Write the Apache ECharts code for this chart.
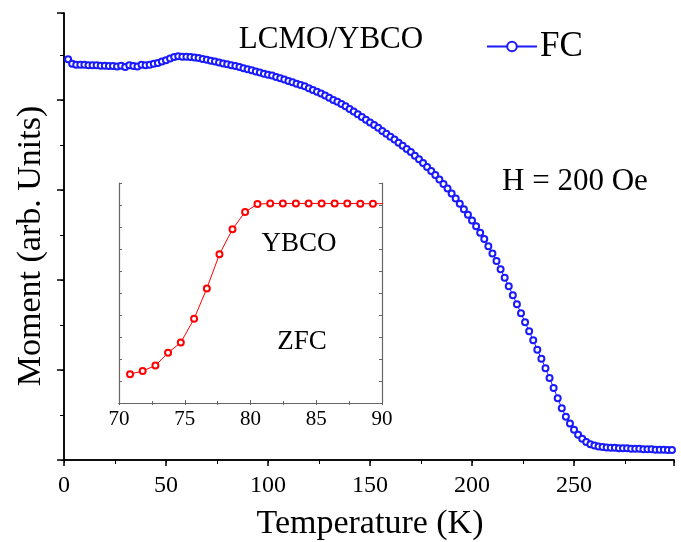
<!DOCTYPE html>
<html>
<head>
<meta charset="utf-8">
<script src="https://cdn.jsdelivr.net/npm/echarts@6/dist/echarts.min.js"></script>
<style>
  html, body { margin: 0; padding: 0; background: #fff; }
  #chart { width: 681px; height: 542px; }
</style>
</head>
<body>
<div id="chart"></div>
<script>
// FC curve, LCMO/YBCO (temperature in K, moment in arb. units)
const fcTemp = [2, 4, 6, 8, 10, 12, 14, 16, 18, 20, 22, 24, 26, 28, 30, 32, 34, 36, 38, 40,
  42, 44, 46, 48, 50, 52, 54, 56, 58, 60, 62, 64, 66, 68, 70, 72, 74, 76, 78, 80,
  82, 84, 86, 88, 90, 92, 94, 96, 98, 100, 102, 104, 106, 108, 110, 112, 114, 116, 118, 120,
  122, 124, 126, 128, 130, 132, 134, 136, 138, 140, 142, 144, 146, 148, 150, 152, 154, 156, 158, 160,
  162, 164, 166, 168, 170, 172, 174, 176, 178, 180, 182, 184, 186, 188, 190, 192, 194, 196, 198, 200,
  202, 204, 206, 208, 210, 212, 214, 216, 218, 220, 222, 224, 226, 228, 230, 232, 234, 236, 238, 240,
  242, 244, 246, 248, 250, 252, 254, 256, 258, 260, 262, 264, 266, 268, 270, 272, 274, 276, 278, 280,
  282, 284, 286, 288, 290, 292, 294, 296, 298];
const fcMoment = [8.90, 8.80, 8.78, 8.78, 8.78, 8.77, 8.77, 8.77, 8.76, 8.76, 8.75, 8.75, 8.74, 8.76, 8.73, 8.77, 8.75, 8.74, 8.78, 8.77,
  8.78, 8.80, 8.82, 8.85, 8.88, 8.92, 8.95, 8.97, 8.96, 8.96, 8.95, 8.94, 8.93, 8.91, 8.89, 8.87, 8.85, 8.83, 8.81, 8.79,
  8.77, 8.75, 8.73, 8.70, 8.68, 8.66, 8.63, 8.61, 8.58, 8.56, 8.54, 8.51, 8.48, 8.45, 8.42, 8.39, 8.36, 8.33, 8.30, 8.26,
  8.22, 8.18, 8.14, 8.10, 8.05, 8.00, 7.96, 7.91, 7.86, 7.80, 7.74, 7.68, 7.62, 7.56, 7.50, 7.44, 7.38, 7.31, 7.25, 7.18,
  7.12, 7.05, 6.98, 6.91, 6.84, 6.76, 6.68, 6.60, 6.51, 6.42, 6.33, 6.23, 6.13, 6.03, 5.92, 5.81, 5.69, 5.57, 5.45, 5.32,
  5.19, 5.05, 4.91, 4.75, 4.59, 4.42, 4.24, 4.05, 3.86, 3.66, 3.46, 3.26, 3.06, 2.86, 2.66, 2.45, 2.25, 2.04, 1.82, 1.60,
  1.37, 1.15, 0.96, 0.81, 0.67, 0.56, 0.47, 0.40, 0.35, 0.32, 0.30, 0.29, 0.28, 0.27, 0.27, 0.26, 0.26, 0.26, 0.25, 0.25,
  0.25, 0.24, 0.24, 0.24, 0.23, 0.23, 0.23, 0.22, 0.22];

// inset: YBCO ZFC
const zfcTemp = [70.84, 71.80, 72.77, 73.73, 74.70, 75.71, 76.68, 77.64, 78.63, 79.59,
  80.53, 81.50, 82.46, 83.45, 84.42, 85.41, 86.40, 87.36, 88.35, 89.31, 90.28];
const zfcMoment = [1.31, 1.46, 1.70, 2.28, 2.75, 3.83, 5.21, 6.76, 7.90, 8.68,
  9.04, 9.07, 9.07, 9.07, 9.07, 9.07, 9.07, 9.07, 9.06, 9.06, 9.06];

const mainTicks = [0, 50, 100, 150, 200, 250];
const insetTicks = [70, 75, 80, 85, 90];

const serif = 'Liberation Serif';
const chart = echarts.init(document.getElementById('chart'));

const pairs = (xs, ys) => xs.map((x, i) => [x, ys[i]]);

// centred text helper for the labels drawn on the canvas
const label = (text, x, y, size, rot) => ({
  type: 'text', x: x, y: y, rotation: rot || 0,
  style: { text: text, fontFamily: serif, fontSize: size, fill: '#000', align: 'center', verticalAlign: 'middle' }
});

const option = {
  animation: false,
  backgroundColor: '#fff',
  grid: [
    { left: 64, top: 13, width: 610, height: 447 },
    { left: 119, top: 183, width: 263, height: 220 }
  ],
  legend: {
    data: ['FC'],
    left: 481, top: 24,
    itemWidth: 50, itemHeight: 12, itemGap: 4,
    textStyle: { fontFamily: serif, fontSize: 35, color: '#000', padding: [0, 0, 0, -2] }
  },
  xAxis: [
    {
      gridIndex: 0, type: 'value', min: 0, max: 299, interval: 50,
      axisLine: { lineStyle: { color: '#000', width: 1.5 } },
      axisTick: { inside: false, length: 6, lineStyle: { width: 1.5 } },
      minorTick: { show: true, splitNumber: 2, length: 4, lineStyle: { color: '#000' } },
      splitLine: { show: false },
      axisLabel: {
        fontFamily: serif, fontSize: 24, color: '#000', margin: 14,
        formatter: v => mainTicks.includes(v) ? String(v) : ''
      }
    },
    {
      gridIndex: 0, type: 'value', position: 'top', min: 0, max: 299, interval: 25,
      axisLine: { lineStyle: { color: '#000', width: 1.5 } },
      axisTick: { inside: true, length: 3 },
      splitLine: { show: false },
      axisLabel: { show: false }
    },
    {
      gridIndex: 1, type: 'value', min: 70, max: 90, interval: 5,
      axisLine: { lineStyle: { color: '#666', width: 1.2 } },
      axisTick: { inside: true, length: 3, lineStyle: { color: '#666' } },
      minorTick: { show: true, splitNumber: 2, length: 2, lineStyle: { color: '#666' } },
      splitLine: { show: false },
      axisLabel: {
        fontFamily: serif, fontSize: 21, color: '#000', margin: 6,
        formatter: v => insetTicks.includes(v) ? String(v) : ''
      }
    },
    {
      gridIndex: 1, type: 'value', position: 'top', min: 70, max: 90, interval: 2.5,
      axisLine: { lineStyle: { color: '#666', width: 1.2 } },
      axisTick: { inside: true, length: 2, lineStyle: { color: '#666' } },
      splitLine: { show: false },
      axisLabel: { show: false }
    }
  ],
  yAxis: [
    {
      gridIndex: 0, type: 'value', min: 0, max: 9.93, interval: 2,
      axisLine: { lineStyle: { color: '#000', width: 1.5 } },
      axisTick: { inside: false, length: 7, lineStyle: { width: 1.5 } },
      minorTick: { show: true, splitNumber: 2, length: 4, lineStyle: { color: '#000' } },
      splitLine: { show: false },
      axisLabel: { show: false }
    },
    {
      gridIndex: 0, type: 'value', position: 'right', min: 0, max: 9.93, interval: 1,
      axisLine: { lineStyle: { color: '#000', width: 1.5 } },
      axisTick: { inside: true, length: 3 },
      splitLine: { show: false },
      axisLabel: { show: false }
    },
    {
      gridIndex: 1, type: 'value', min: 0, max: 10, interval: 1,
      axisLine: { lineStyle: { color: '#666', width: 1.2 } },
      axisTick: { inside: true, length: 3, lineStyle: { color: '#666' } },
      splitLine: { show: false },
      axisLabel: { show: false }
    },
    {
      gridIndex: 1, type: 'value', position: 'right', min: 0, max: 10, interval: 1,
      axisLine: { lineStyle: { color: '#666', width: 1.2 } },
      axisTick: { inside: true, length: 3, lineStyle: { color: '#666' } },
      splitLine: { show: false },
      axisLabel: { show: false }
    }
  ],
  graphic: [
    label('Temperature (K)', 370, 524, 34),
    label('Moment (arb. Units)', 31, 246, 34, Math.PI / 2),
    label('LCMO/YBCO', 331, 40, 31),
    label('H = 200 Oe', 575, 182, 31),
    label('YBCO', 299, 244, 27),
    label('ZFC', 302, 342, 27)
  ],
  series: [
    {
      name: 'FC', type: 'line', xAxisIndex: 0, yAxisIndex: 0,
      data: pairs(fcTemp, fcMoment),
      symbol: 'emptyCircle', symbolSize: 6,
      itemStyle: { color: '#1a1aff', borderWidth: 1 },
      lineStyle: { color: '#1a1aff', width: 1 }
    },
    {
      name: 'ZFC', type: 'line', xAxisIndex: 2, yAxisIndex: 2,
      data: pairs(zfcTemp, zfcMoment),
      symbol: 'emptyCircle', symbolSize: 6, clip: true,
      itemStyle: { color: '#ff0000', borderWidth: 2 },
      lineStyle: { color: '#ff0000', width: 1 }
    }
  ]
};

chart.setOption(option);
</script>
</body>
</html>
